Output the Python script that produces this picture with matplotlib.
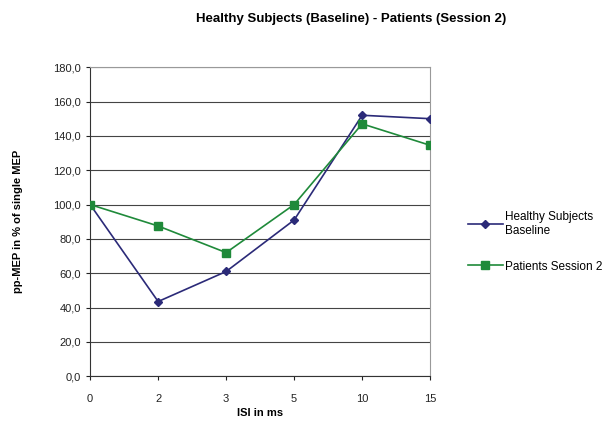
import matplotlib
matplotlib.use('Agg')
import matplotlib.pyplot as plt
from matplotlib.ticker import FuncFormatter

isi_labels = ['0', '2', '3', '5', '10', '15']
healthy = [100.0, 43.5, 61.0, 91.0, 152.0, 150.0]
patients = [100.0, 87.5, 72.0, 100.0, 147.0, 134.5]

plt.rcParams['font.family'] = ['Liberation Sans', 'DejaVu Sans']

fig = plt.figure(figsize=(6.05, 4.28), dpi=100)
ax = fig.add_axes([0.149, 0.121, 0.562, 0.722])

x = range(len(isi_labels))
ax.plot(x, healthy, color='#2b2a78', marker='D', markersize=4, linewidth=1.2,
        label='Healthy Subjects\nBaseline', zorder=3)
ax.plot(x, patients, color='#1f8a3a', marker='s', markersize=6, linewidth=1.2,
        label='Patients Session 2', zorder=3)

ax.set_xlim(0, len(isi_labels) - 1)
ax.set_ylim(0, 180)
ax.set_yticks(range(0, 181, 20))
ax.yaxis.set_major_formatter(FuncFormatter(lambda v, p: f'{v:.1f}'.replace('.', ',')))
ax.set_xticks(list(x))
ax.set_xticklabels(isi_labels)
ax.tick_params(labelsize=8, colors='#222222', length=3)
ax.tick_params(axis='x', pad=10)
ax.grid(axis='y', color='#444444', linewidth=0.8)

for side in ['top', 'right']:
    ax.spines[side].set_color('#999999')
for side in ['left', 'bottom']:
    ax.spines[side].set_color('#333333')

ax.set_xlabel('ISI in ms', fontsize=8, fontweight='bold', labelpad=3)
ax.set_ylabel('pp-MEP in % of single MEP', fontsize=8, fontweight='bold', labelpad=22)
fig.text(0.58, 0.955, 'Healthy Subjects (Baseline) - Patients (Session 2)',
         ha='center', va='center', fontsize=9.5, fontweight='bold')

# legend sits right of the plot; text kept small enough to stay inside the figure
fig.legend(loc='center left', bbox_to_anchor=(0.765, 0.435), frameon=False,
           fontsize=8.5, handlelength=3, handletextpad=0.2, labelspacing=2.0,
           borderaxespad=0)

fig.savefig('out.png', dpi=100)
